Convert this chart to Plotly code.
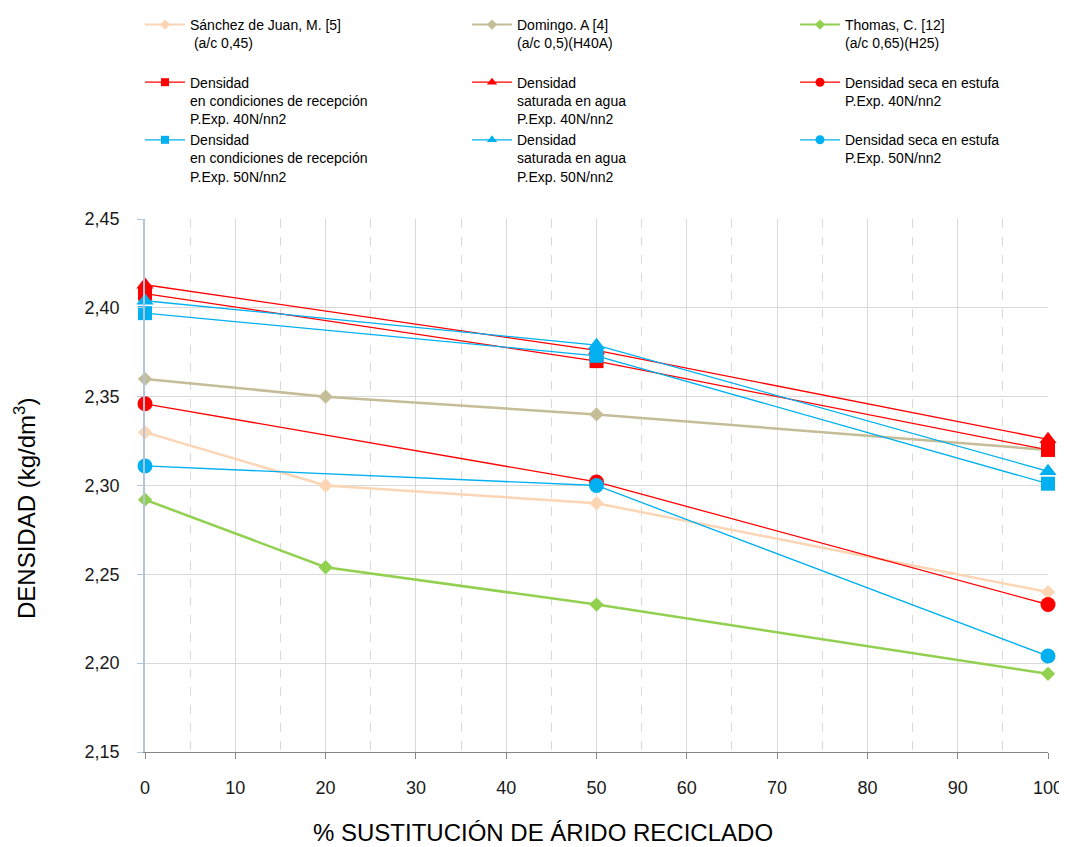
import plotly.graph_objects as go

x_lit = [0, 20, 50, 100]
x_exp = [0, 50, 100]

sanchez = [2.330, 2.300, 2.290, 2.240]
domingo = [2.360, 2.350, 2.340, 2.320]
thomas = [2.292, 2.254, 2.233, 2.194]

rec40 = [2.408, 2.370, 2.320]
sat40 = [2.413, 2.376, 2.326]
seca40 = [2.346, 2.302, 2.233]
rec50 = [2.397, 2.373, 2.301]
sat50 = [2.404, 2.379, 2.308]
seca50 = [2.311, 2.300, 2.204]

NB = "\u00a0"
names = {
    "sanchez": "Sánchez de Juan, M. [5]<br> (a/c 0,45)<br>" + NB,
    "domingo": "Domingo. A [4]<br>(a/c 0,5)(H40A)<br>" + NB,
    "thomas": "Thomas, C. [12]<br>(a/c 0,65)(H25)<br>" + NB,
    "rec40": "Densidad<br>en condiciones de recepción<br>P.Exp. 40N/nn2",
    "sat40": "Densidad<br>saturada en agua<br>P.Exp. 40N/nn2",
    "seca40": "Densidad seca en estufa<br>P.Exp. 40N/nn2<br>" + NB,
    "rec50": "Densidad<br>en condiciones de recepción<br>P.Exp. 50N/nn2",
    "sat50": "Densidad<br>saturada en agua<br>P.Exp. 50N/nn2",
    "seca50": "Densidad seca en estufa<br>P.Exp. 50N/nn2<br>" + NB,
}

RED = "#FF0000"
BLUE = "#00B0F0"

fig = go.Figure()

series = [
    (x_lit, sanchez, "sanchez", "#FCD5B5", "diamond", 11, 2.5, 8, 2.0, "legend"),
    (x_lit, domingo, "domingo", "#C4BD97", "diamond", 11, 2.5, 8, 2.0, "legend2"),
    (x_lit, thomas, "thomas", "#92D050", "diamond", 11, 2.5, 8, 2.0, "legend3"),
    (x_exp, rec40, "rec40", RED, "square", 14, 1.3, 8, 1.3, "legend"),
    (x_exp, sat40, "sat40", RED, "triangle-up", 15, 1.3, 9, 1.3, "legend2"),
    (x_exp, seca40, "seca40", RED, "circle", 15, 1.3, 9, 1.3, "legend3"),
    (x_exp, rec50, "rec50", BLUE, "square", 14, 1.3, 8, 1.3, "legend"),
    (x_exp, sat50, "sat50", BLUE, "triangle-up", 15, 1.3, 9, 1.3, "legend2"),
    (x_exp, seca50, "seca50", BLUE, "circle", 15, 1.3, 9, 1.3, "legend3"),
]

for x, y, key, color, symbol, msize, lw, lmsize, llw, legend in series:
    fig.add_trace(go.Scatter(
        x=x, y=y, name=names[key], mode="lines+markers",
        line=dict(color=color, width=lw),
        marker=dict(color=color, symbol=symbol, size=msize),
        showlegend=False, cliponaxis=False,
    ))

# legend-only entries (small symbols as in the reference)
for x, y, key, color, symbol, msize, lw, lmsize, llw, legend in series:
    fig.add_trace(go.Scatter(
        x=[None], y=[None], name=names[key], mode="lines+markers",
        line=dict(color=color, width=llw),
        marker=dict(color=color, symbol=symbol, size=lmsize),
        legend=legend, showlegend=True, hoverinfo="skip",
    ))

W, H = 1059, 839

def leg(xpx):
    return dict(
        orientation="v", x=xpx / W, y=1 - 1 / H,
        xanchor="left", yanchor="top", xref="container", yref="container",
        valign="top", font=dict(size=14, color="#000000"),
        bgcolor="rgba(0,0,0,0)", traceorder="normal", itemwidth=40,
    )

fig.update_layout(
    width=W, height=H,
    paper_bgcolor="white", plot_bgcolor="white",
    separators=",.",
    font=dict(family="Liberation Sans, Arial, sans-serif", color="#000000"),
    margin=dict(l=137, r=19, t=211, b=95, autoexpand=False),
    showlegend=True,
    legend=leg(132),
    legend2=leg(459),
    legend3=leg(787),
    annotations=[
        dict(text="DENSIDAD (kg/dm<sup>3</sup>)", textangle=-90,
             xref="paper", yref="paper", x=(17 - 137) / 903, y=(744 - 500) / 533,
             xanchor="center", yanchor="middle", showarrow=False,
             font=dict(size=24, color="#000000")),
        dict(text="% SUSTITUCIÓN DE ÁRIDO RECICLADO",
             xref="paper", yref="paper", x=(535 - 137) / 903, y=(744 - 824) / 533,
             xanchor="center", yanchor="middle", showarrow=False,
             font=dict(size=24, color="#000000")),
    ],
)

fig.update_xaxes(
    range=[0, 100], tickmode="linear", tick0=0, dtick=10,
    showgrid=True, gridcolor="#D9D9D9", gridwidth=1,
    minor=dict(dtick=5, showgrid=True, gridcolor="#D9D9D9", griddash="dash", gridwidth=1),
    showline=True, linecolor="#868686", linewidth=1,
    ticks="outside", ticklen=6, tickcolor="#868686",
    tickfont=dict(size=18, color="#1a1a1a"), ticklabelstandoff=13,
    zeroline=False, automargin=False,
)
fig.update_yaxes(
    range=[2.15, 2.45], tickmode="linear", tick0=2.15, dtick=0.05, tickformat=".2f",
    showgrid=True, gridcolor="#D9D9D9", gridwidth=1,
    showline=True, linecolor="#B4C4DC", linewidth=1.5,
    ticks="outside", ticklen=6, tickcolor="#B4C4DC",
    tickfont=dict(size=18, color="#1a1a1a"), ticklabelstandoff=14,
    zeroline=False, automargin=False,
)

fig.write_html("out.html")
